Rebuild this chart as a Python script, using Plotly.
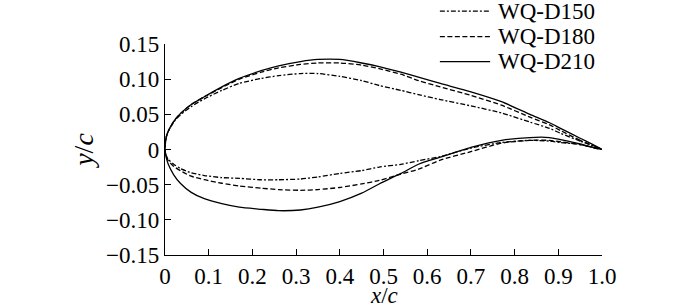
import plotly.graph_objects as go

# chord positions (shared by all profiles)
x_c = [0, 0.003, 0.0075, 0.02, 0.035, 0.06, 0.09, 0.13, 0.17, 0.22, 0.26, 0.31, 0.35,
       0.40, 0.45, 0.49, 0.54, 0.58, 0.63, 0.70, 0.77, 0.835, 0.88, 0.905, 0.95, 1.0]

d150_upper = [0, 0.018, 0.026, 0.039, 0.049, 0.061, 0.072, 0.084, 0.094, 0.101, 0.105, 0.108, 0.108,
              0.104, 0.098, 0.091, 0.084, 0.078, 0.071, 0.062, 0.052, 0.039, 0.030, 0.023, 0.012, 0.0]
d150_lower = [0, -0.009, -0.014, -0.021, -0.027, -0.033, -0.037, -0.040, -0.041, -0.043, -0.043, -0.042, -0.039,
              -0.034, -0.030, -0.025, -0.021, -0.016, -0.010, 0.002, 0.010, 0.013, 0.012, 0.010, 0.007, 0.0]

d180_upper = [0, 0.018, 0.026, 0.040, 0.051, 0.064, 0.075, 0.088, 0.100, 0.110, 0.116, 0.121, 0.123,
              0.123, 0.120, 0.115, 0.107, 0.098, 0.089, 0.077, 0.063, 0.046, 0.035, 0.027, 0.013, 0.0]
d180_lower = [0, -0.010, -0.016, -0.024, -0.030, -0.038, -0.043, -0.048, -0.052, -0.055, -0.057, -0.058, -0.057,
              -0.054, -0.049, -0.044, -0.035, -0.028, -0.015, -0.003, 0.009, 0.013, 0.013, 0.011, 0.007, 0.0]

d210_upper = [0, 0.018, 0.026, 0.040, 0.051, 0.064, 0.075, 0.089, 0.101, 0.112, 0.119, 0.125, 0.128,
              0.128, 0.123, 0.118, 0.110, 0.103, 0.094, 0.082, 0.068, 0.050, 0.038, 0.030, 0.016, 0.0]
d210_lower = [0, -0.012, -0.021, -0.036, -0.048, -0.061, -0.070, -0.077, -0.082, -0.085, -0.087, -0.086, -0.082,
              -0.074, -0.062, -0.049, -0.034, -0.021, -0.011, 0.003, 0.013, 0.017, 0.017, 0.014, 0.008, 0.0]

series_names = ["WQ-D150", "WQ-D180", "WQ-D210"]
series_dash = ["5px,2px,2px,2px", "5px,2.5px", "solid"]

x_ticks = [0, 0.1, 0.2, 0.3, 0.4, 0.5, 0.6, 0.7, 0.8, 0.9, 1.0]
x_ticklabels = ["0", "0.1", "0.2", "0.3", "0.4", "0.5", "0.6", "0.7", "0.8", "0.9", "1.0"]
y_ticks = [-0.15, -0.10, -0.05, 0, 0.05, 0.10, 0.15]
y_ticklabels = ["\u22120.15", "\u22120.10", "\u22120.05", "0", "0.05", "0.10", "0.15"]
x_title = "<i>x</i>/<i>c</i>"
y_title = "<i>y</i>/<i>c</i>"

FONT = "Liberation Serif, Times New Roman, serif"
FS = 23

fig = go.Figure()
profiles = [(d150_upper, d150_lower), (d180_upper, d180_lower), (d210_upper, d210_lower)]
for name, dash, (up, lo) in zip(series_names, series_dash, profiles):
    xs = list(reversed(x_c)) + x_c[1:]
    ys = list(reversed(up)) + lo[1:]
    fig.add_trace(go.Scatter(x=xs, y=ys, mode="lines", name=name, showlegend=False,
                             line=dict(color="black", width=1.3, dash=dash, shape="spline", smoothing=0.6)))

# legend drawn in paper space (sample line + label)
legend_rows_y = [1.156, 1.035, 0.916]
shapes = []
annotations = []
for name, dash, ly in zip(series_names, series_dash, legend_rows_y):
    shapes.append(dict(type="line", xref="paper", yref="paper", x0=0.629, x1=0.744, y0=ly, y1=ly,
                       line=dict(color="black", width=1.3, dash=dash)))
    annotations.append(dict(text=name, xref="paper", yref="paper", x=0.758, y=ly,
                            xanchor="left", yanchor="middle", showarrow=False,
                            font=dict(family=FONT, size=FS, color="black")))

# x-axis title placed just below the tick labels
annotations.append(dict(text=x_title, xref="paper", yref="paper", x=0.5, y=-0.19,
                        xanchor="center", yanchor="middle", showarrow=False,
                        font=dict(family=FONT, size=FS, color="black")))

fig.update_layout(
    width=700, height=308,
    margin=dict(l=165, r=98, t=44, b=53),
    paper_bgcolor="white", plot_bgcolor="white",
    font=dict(family=FONT, size=FS, color="black"),
    showlegend=False,
    shapes=shapes,
    annotations=annotations,
    xaxis=dict(range=[0, 1.0], tickvals=x_ticks, ticktext=x_ticklabels, automargin=False,
               ticks="inside", ticklen=6, tickwidth=1.3, tickcolor="black",
               showline=True, linecolor="black", linewidth=1.4, showgrid=False, zeroline=False),
    yaxis=dict(range=[-0.15, 0.15], tickvals=y_ticks, ticktext=y_ticklabels, automargin=False,
               ticks="inside", ticklen=6, tickwidth=1.3, tickcolor="black",
               showline=True, linecolor="black", linewidth=1.4, showgrid=False, zeroline=False,
               title=dict(text=y_title, standoff=4)),
)

fig.write_html("out.html", config={"displayModeBar": False},
               post_script="document.body.style.margin='0';document.body.style.overflow='hidden';")
